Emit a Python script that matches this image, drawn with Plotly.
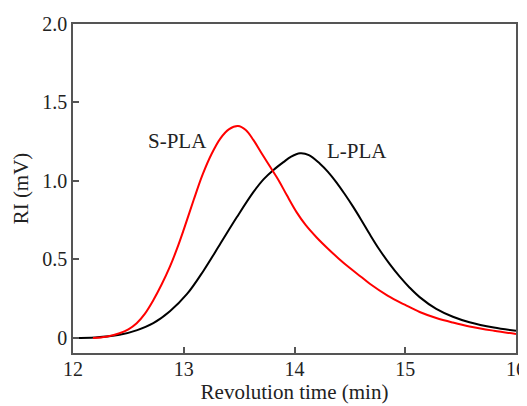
import plotly.graph_objects as go

# S-PLA (red) curve
s_x = [12.18, 12.30, 12.42, 12.50, 12.575, 12.65, 12.725, 12.80, 12.875, 12.94, 13.0, 13.09, 13.17, 13.25, 13.33, 13.41, 13.49, 13.56, 13.63, 13.70, 13.78, 13.86, 13.93, 14.02, 14.10, 14.20, 14.30, 14.40, 14.50, 14.60, 14.68, 14.84, 15.0, 15.13, 15.28, 15.43, 15.58, 15.80, 16.0]
s_y = [0.0, 0.008, 0.03, 0.055, 0.094, 0.155, 0.24, 0.34, 0.454, 0.57, 0.69, 0.88, 1.04, 1.17, 1.27, 1.33, 1.35, 1.325, 1.26, 1.18, 1.09, 1.00, 0.91, 0.80, 0.72, 0.64, 0.57, 0.505, 0.445, 0.39, 0.345, 0.27, 0.21, 0.165, 0.127, 0.098, 0.073, 0.046, 0.025]

# L-PLA (black) curve
l_x = [12.0, 12.2, 12.42, 12.58, 12.725, 12.875, 13.03, 13.18, 13.33, 13.48, 13.63, 13.72, 13.81, 13.90, 13.97, 14.05, 14.13, 14.23, 14.30, 14.38, 14.45, 14.53, 14.60, 14.68, 14.76, 14.86, 14.95, 15.04, 15.13, 15.28, 15.43, 15.58, 15.80, 16.0]
l_y = [0.0, 0.003, 0.02, 0.05, 0.094, 0.17, 0.28, 0.43, 0.60, 0.77, 0.93, 1.01, 1.07, 1.12, 1.155, 1.176, 1.165, 1.11, 1.06, 0.99, 0.92, 0.835, 0.755, 0.66, 0.57, 0.47, 0.39, 0.32, 0.26, 0.185, 0.135, 0.10, 0.066, 0.045]

x_ticks = [12, 13, 14, 15, 16]
y_ticks = [0, 0.5, 1.0, 1.5, 2.0]
y_tick_labels = ["0", "0.5", "1.0", "1.5", "2.0"]

font_family = "Liberation Serif, Times New Roman, serif"
fsize = 21
tsize = 20

fig = go.Figure()
fig.add_trace(go.Scatter(x=l_x, y=l_y, mode="lines", line=dict(color="black", width=2, shape="spline", smoothing=1.0), name="L-PLA"))
fig.add_trace(go.Scatter(x=s_x, y=s_y, mode="lines", line=dict(color="#ff0000", width=2, shape="spline", smoothing=1.0), name="S-PLA"))

fig.add_annotation(x=12.94, y=1.255, text="S-PLA", showarrow=False, font=dict(family=font_family, size=fsize, color="#222"))
fig.add_annotation(x=14.56, y=1.194, text="L-PLA", showarrow=False, font=dict(family=font_family, size=fsize, color="#222"))

axis_common = dict(showline=True, linecolor="#555", linewidth=1.5, mirror=True, ticks="inside", ticklen=6,
                   tickcolor="#555", tickwidth=1.5, showgrid=False, zeroline=False, automargin=False,
                   tickfont=dict(family=font_family, size=tsize, color="#222"))

fig.update_xaxes(range=[12, 16], tickvals=x_ticks, ticklabelstandoff=-3,
                 title=dict(text="Revolution time (min)", font=dict(family=font_family, size=fsize, color="#222"), standoff=6), **axis_common)
fig.update_yaxes(range=[-0.096, 2.0], tickvals=y_ticks, ticktext=y_tick_labels,
                 title=dict(text="RI (mV)", font=dict(family=font_family, size=fsize, color="#222"), standoff=8), **axis_common)

# page body adds an 8px offset, so the figure is sized to fit the 527x406 window
fig.update_layout(width=519, height=398, margin=dict(l=65, r=11, t=16, b=53),
                  plot_bgcolor="white", paper_bgcolor="white", showlegend=False)

fig.write_html("out.html")
